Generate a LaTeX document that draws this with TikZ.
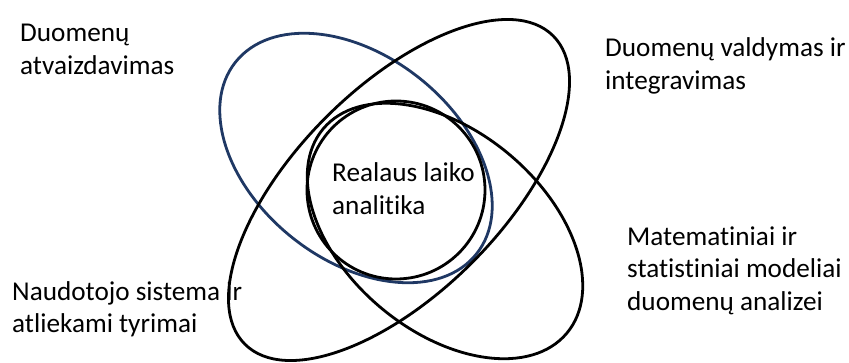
\documentclass[tikz,border=0pt]{standalone}
\usepackage{fontspec}
\setmainfont{Carlito}[RawFeature=-liga]
\definecolor{ringblue}{RGB}{31,56,100}
\begin{document}
\begin{tikzpicture}[x=1pt,y=1pt,
  ring/.style={line width=2.8pt,draw=black},
  lbl/.style={anchor=base west,inner sep=0pt,
    font=\fontsize{27.2}{32.7}\selectfont}]
\useasboundingbox (0,0) rectangle (849,362);
% blue ellipse (upper left)
\draw[ring,draw=ringblue,rotate around={-38.5:(356,204)}] (356,204) ellipse [x radius=154pt,y radius=102pt];
% long ellipse (lower left to upper right)
\draw[ring,rotate around={45:(399,172)}] (399,172) ellipse [x radius=218pt,y radius=103pt];
% lower right ellipse
\draw[ring,rotate around={-40:(445,131)}] (445,131) ellipse [x radius=159pt,y radius=100pt];
% centre circle
\draw[ring] (396,172) circle [radius=89pt];
\node[lbl] (visual) at (20,320) {\begin{tabular}[t]{@{}l@{}}Duomenų\\atvaizdavimas\end{tabular}};
\node[lbl] (manage) at (605,305) {\begin{tabular}[t]{@{}l@{}}Duomenų valdymas ir\\integravimas\end{tabular}};
\node[lbl] (centre) at (332,180) {\begin{tabular}[t]{@{}l@{}}Realaus laiko\\analitika\end{tabular}};
\node[lbl] (models) at (627,117) {\begin{tabular}[t]{@{}l@{}}Matematiniai ir\\statistiniai modeliai\\duomenų analizei\end{tabular}};
\node[lbl] (users) at (12,62) {\begin{tabular}[t]{@{}l@{}}Naudotojo sistema ir\\atliekami tyrimai\end{tabular}};
\end{tikzpicture}
\end{document}
